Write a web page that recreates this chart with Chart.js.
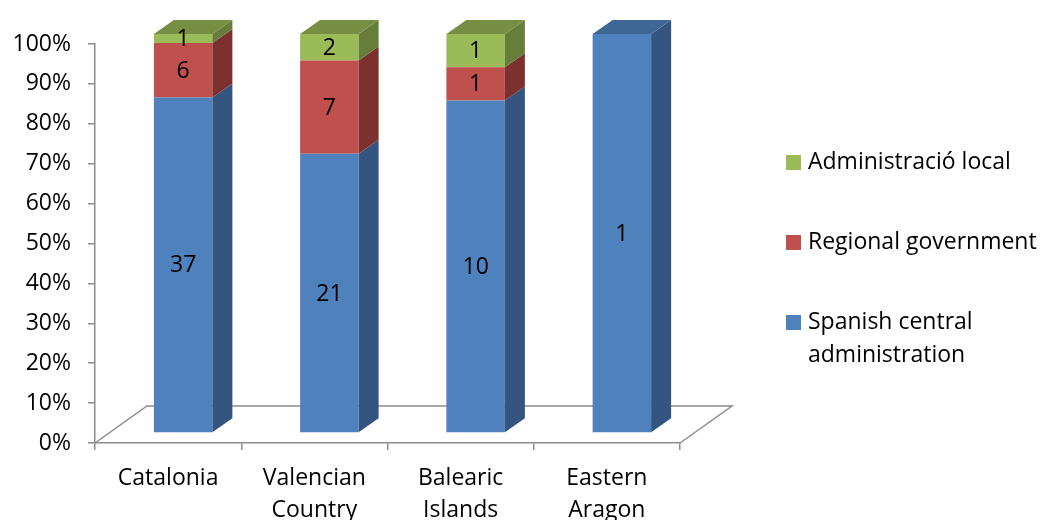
<!DOCTYPE html>
<html>
<head>
<meta charset="utf-8">
<script src="https://cdn.jsdelivr.net/npm/chart.js@4.4.1/dist/chart.umd.min.js"></script>
<style>
    body { margin: 0; background: #ffffff; }
    #caixa { width: 1042px; height: 520px; }
</style>
</head>
<body>
<div id="caixa"><canvas id="grafico"></canvas></div>
<script>
const regions = ["Catalonia", ["Valencian", "Country"], ["Balearic", "Islands"], ["Eastern", "Aragon"]];
const spanishCentral = [37, 21, 10, 1];
const regionalGov = [6, 7, 1, 0];
const localAdmin = [1, 2, 1, 0];
const seriesNames = ["Spanish central administration", "Regional government", "Administració local"];

const FONT = "'Open Sans', 'DejaVu Sans', sans-serif";
const GRAY = "#8c8c8c";

// 3d look: bar depth, bar shift into the floor, floor depth
const DX = 20, DY = -14;
const SX = 15, SY = -10;
const FX = 52, FY = -37;

const totals = spanishCentral.map((v, i) => v + regionalGov[i] + localAdmin[i]);
function share(arr) {
    return arr.map((v, i) => v / totals[i] * 100);
}

const bars3d = {
    id: "bars3d",
    beforeDatasetsDraw(chart) {
        const ctx = chart.ctx;
        const a = chart.chartArea;
        ctx.save();
        ctx.strokeStyle = GRAY;
        ctx.lineWidth = 1.5;
        ctx.beginPath();
        ctx.moveTo(a.left, a.bottom);
        ctx.lineTo(a.left + FX, a.bottom + FY);
        ctx.lineTo(a.right + FX, a.bottom + FY);
        ctx.lineTo(a.right, a.bottom);
        ctx.stroke();
        ctx.restore();

        ctx.save();
        ctx.translate(SX, SY);
    },
    afterDatasetsDraw(chart) {
        const ctx = chart.ctx;
        const n = chart.data.labels.length;

        for (let i = 0; i < n; i++) {
            let topo = null;
            let corTopo = null;
            chart.data.datasets.forEach((ds, d) => {
                const p = chart.getDatasetMeta(d).data[i].getProps(["x", "y", "base", "width"], true);
                if (Math.abs(p.base - p.y) < 0.5) return;
                const r = p.x + p.width / 2;
                ctx.fillStyle = ds.sideColor;
                ctx.beginPath();
                ctx.moveTo(r, p.y);
                ctx.lineTo(r + DX, p.y + DY);
                ctx.lineTo(r + DX, p.base + DY);
                ctx.lineTo(r, p.base);
                ctx.closePath();
                ctx.fill();
                topo = p;
                corTopo = ds.topColor;
            });
            if (topo) {
                const l = topo.x - topo.width / 2;
                const r = topo.x + topo.width / 2;
                ctx.fillStyle = corTopo;
                ctx.beginPath();
                ctx.moveTo(l, topo.y);
                ctx.lineTo(l + DX, topo.y + DY);
                ctx.lineTo(r + DX, topo.y + DY);
                ctx.lineTo(r, topo.y);
                ctx.closePath();
                ctx.fill();
            }
        }

        // data labels (counts)
        ctx.fillStyle = "#000000";
        ctx.font = "23px " + FONT;
        ctx.textAlign = "center";
        ctx.textBaseline = "middle";
        chart.data.datasets.forEach((ds, d) => {
            chart.getDatasetMeta(d).data.forEach((bar, i) => {
                const valor = ds.counts[i];
                if (!valor) return;
                const p = bar.getProps(["x", "y", "base"], true);
                ctx.fillText(String(valor), p.x, (p.y + p.base) / 2 + 1);
            });
        });

        ctx.restore();
    },
    afterDraw(chart) {
        const ctx = chart.ctx;
        const linhas = [
            { d: 2, y: 162, text: ["Administració local"] },
            { d: 1, y: 242, text: ["Regional government"] },
            { d: 0, y: 322, text: ["Spanish central", "administration"] }
        ];
        ctx.save();
        ctx.font = "23px " + FONT;
        ctx.textAlign = "left";
        ctx.textBaseline = "middle";
        linhas.forEach((item) => {
            const ds = chart.data.datasets[item.d];
            ctx.fillStyle = ds.backgroundColor;
            ctx.fillRect(786, item.y - 7, 15, 15);
            ctx.fillStyle = "#000000";
            item.text.forEach((t, k) => {
                ctx.fillText(t, 808, item.y + k * 33);
            });
        });
        ctx.restore();
    }
};

const ctx = document.getElementById("grafico").getContext("2d");

new Chart(ctx, {
    type: "bar",
    data: {
        labels: regions,
        datasets: [
            {
                label: seriesNames[0],
                data: share(spanishCentral),
                counts: spanishCentral,
                backgroundColor: "#4F81BD",
                sideColor: "#34557F",
                topColor: "#3E6795",
                clip: false
            },
            {
                label: seriesNames[1],
                data: share(regionalGov),
                counts: regionalGov,
                backgroundColor: "#C0504D",
                sideColor: "#7D312F",
                topColor: "#93393A",
                clip: false
            },
            {
                label: seriesNames[2],
                data: share(localAdmin),
                counts: localAdmin,
                backgroundColor: "#9BBB59",
                sideColor: "#677D3A",
                topColor: "#768F42",
                clip: false
            }
        ]
    },
    options: {
        responsive: true,
        maintainAspectRatio: false,
        animation: false,
        datasets: {
            bar: {
                categoryPercentage: 1,
                barPercentage: 0.4
            }
        },
        layout: {
            padding: { top: 44, right: 362, left: 0, bottom: 0 }
        },
        scales: {
            x: {
                stacked: true,
                grid: {
                    drawOnChartArea: false,
                    color: GRAY,
                    lineWidth: 1.5,
                    tickLength: 7
                },
                border: { color: GRAY, width: 1.5 },
                ticks: {
                    color: "#000000",
                    padding: 12,
                    maxRotation: 0,
                    font: { family: FONT, size: 23, lineHeight: 1.4 }
                },
                afterFit(scale) {
                    scale.height = 77;
                }
            },
            y: {
                stacked: true,
                min: 0,
                max: 100,
                grid: {
                    drawOnChartArea: false,
                    color: GRAY,
                    lineWidth: 1.5,
                    tickLength: 7
                },
                border: { color: GRAY, width: 1.5 },
                ticks: {
                    stepSize: 10,
                    color: "#000000",
                    padding: 17,
                    font: { family: FONT, size: 23 },
                    callback: (v) => v + "%"
                },
                afterFit(scale) {
                    scale.width = 95;
                }
            }
        },
        plugins: {
            legend: { display: false },
            tooltip: { enabled: false }
        }
    },
    plugins: [bars3d]
});
</script>
</body>
</html>
